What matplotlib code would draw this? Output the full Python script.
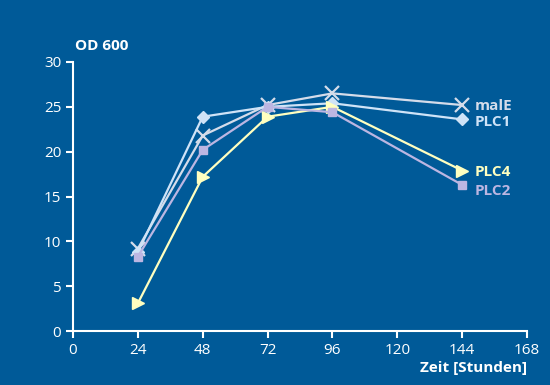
import matplotlib
matplotlib.use("Agg")
import matplotlib.pyplot as plt

plt.rcParams['font.family'] = ['Open Sans', 'DejaVu Sans']

hours = [24, 48, 72, 96, 144]
malE = [9.2, 21.8, 25.2, 26.5, 25.2]
plc1 = [8.8, 23.9, 25.0, 25.4, 23.6]
plc2 = [8.3, 20.2, 25.0, 24.4, 16.3]
plc4 = [3.1, 17.2, 23.9, 25.0, 17.9]
xticks = [0, 24, 48, 72, 96, 120, 144, 168]
yticks = [0, 5, 10, 15, 20, 25, 30]

bg = '#005a98'
fig = plt.figure(figsize=(5.5, 3.85), dpi=100, facecolor=bg)
ax = fig.add_axes([0.1327, 0.140, 0.8255, 0.699])
ax.set_facecolor(bg)

series = [
    ('malE', malE, '#d4dcea', 'x', 10),
    ('PLC1', plc1, '#cfe3f7', 'D', 6),
    ('PLC4', plc4, '#ffffc0', '>', 9),
    ('PLC2', plc2, '#bcb6e2', 's', 6),
]
label_off = {'malE': -0.1, 'PLC1': -0.3, 'PLC4': -0.2, 'PLC2': -0.7}
for name, vals, col, mk, ms in series:
    ax.plot(hours, vals, color=col, lw=1.6, marker=mk, ms=ms, mew=1.6 if mk == 'x' else 1,
            mfc=col, mec=col, clip_on=False)
    ax.annotate(name, (hours[-1], vals[-1] + label_off[name]), xytext=(9, 0),
                textcoords='offset points', color=col, fontsize=11, fontweight='bold',
                va='center', ha='left')

ax.set_xlim(0, 168)
ax.set_ylim(0, 30)
ax.set_xticks(xticks)
ax.set_yticks(yticks)
for s in ['top', 'right']:
    ax.spines[s].set_visible(False)
for s in ['left', 'bottom']:
    ax.spines[s].set_color('white')
    ax.spines[s].set_linewidth(1.5)
ax.tick_params(colors='white', labelcolor='white', labelsize=11, width=1.5, length=5)

fig.text(0.136, 0.862, 'OD 600', color='white', fontsize=11, fontweight='bold', ha='left', va='bottom')
fig.text(0.958, 0.025, 'Zeit [Stunden]', color='white', fontsize=11, fontweight='bold', ha='right', va='bottom')

fig.savefig('out.png', dpi=100, facecolor=bg)
